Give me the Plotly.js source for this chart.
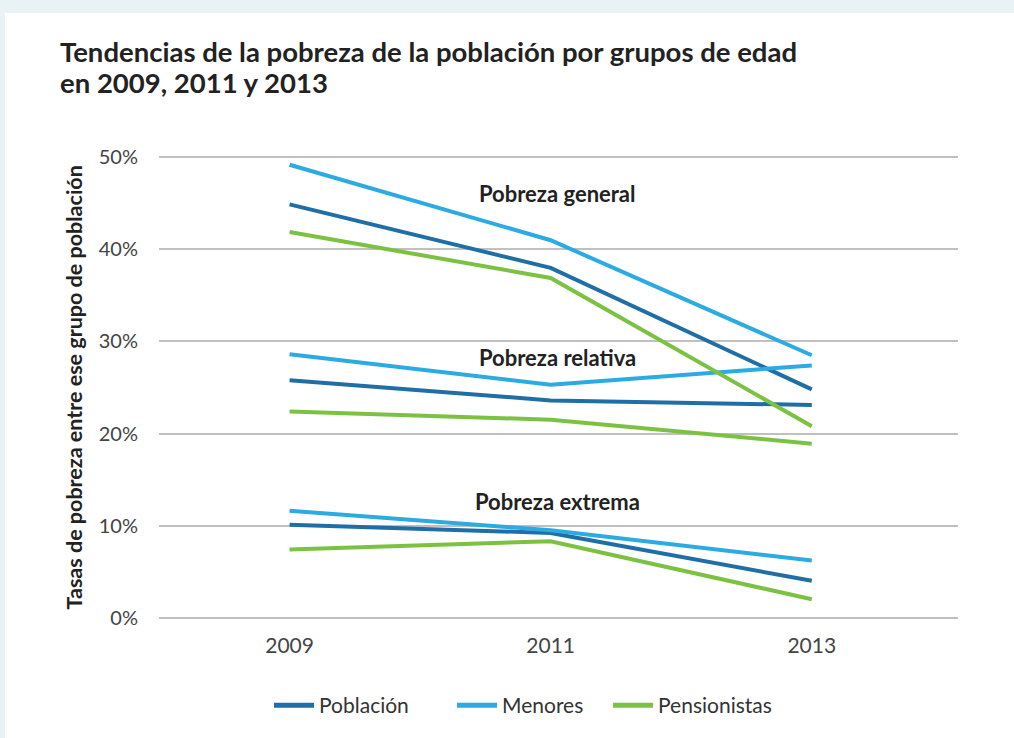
<!DOCTYPE html>
<html>
<head>
<meta charset="utf-8">
<script src="https://cdn.plot.ly/plotly-3.0.1.min.js"></script>
<style>
  html, body { margin: 0; padding: 0; background: #e9f3f5; width: 1014px; height: 738px; overflow: hidden; }
  #chart { position: absolute; left: 5px; top: 13px; width: 1009px; height: 725px; background: #ffffff; }
</style>
</head>
<body>
<div id="chart"></div>
<script>
const years = [2009, 2011, 2013];
const groups = ["Población", "Menores", "Pensionistas"];
// Pobreza general
const generalPoblacion = [44.9, 38.0, 24.8];
const generalMenores = [49.2, 41.0, 28.5];
const generalPensionistas = [41.9, 36.9, 20.8];
// Pobreza relativa
const relativaPoblacion = [25.8, 23.6, 23.1];
const relativaMenores = [28.6, 25.3, 27.4];
const relativaPensionistas = [22.4, 21.5, 18.9];
// Pobreza extrema
const extremaPoblacion = [10.1, 9.2, 4.0];
const extremaMenores = [11.6, 9.5, 6.2];
const extremaPensionistas = [7.4, 8.3, 2.0];

const yTickVals = [0, 10, 20, 30, 40, 50];
const yTickText = ["0%", "10%", "20%", "30%", "40%", "50%"];
const labels = ["Pobreza general", "Pobreza relativa", "Pobreza extrema"];
const labelY = [46.1, 28.3, 12.6];
const titleLines = ["Tendencias de la pobreza de la población por grupos de edad", "en 2009, 2011 y 2013"];
const yTitle = "Tasas de pobreza entre ese grupo de población";

const colors = { "Población": "#1f6ea6", "Menores": "#2babe2", "Pensionistas": "#7cc242" };

const sets = [
  { name: "Población", vals: [generalPoblacion, relativaPoblacion, extremaPoblacion] },
  { name: "Menores", vals: [generalMenores, relativaMenores, extremaMenores] },
  { name: "Pensionistas", vals: [generalPensionistas, relativaPensionistas, extremaPensionistas] }
];
const legendIds = ["legend", "legend2", "legend3"];

const traces = [];
sets.forEach((s, k) => {
  s.vals.forEach((v) => {
    traces.push({
      x: years, y: v, type: "scatter", mode: "lines",
      name: s.name, legendgroup: s.name, showlegend: false,
      line: { color: colors[s.name], width: 4 },
      hoverinfo: "skip"
    });
  });
  // legend entry (no data drawn)
  traces.push({
    x: [null], y: [null], type: "scatter", mode: "lines",
    name: s.name, legendgroup: s.name, showlegend: true, legend: legendIds[k],
    line: { color: colors[s.name], width: 5 }, hoverinfo: "skip"
  });
});

const W = 1009, H = 725;
const legendFont = { family: "Lato", size: 21, color: "#333333" };
function mkLegend(xp) {
  return {
    orientation: "h", x: xp, xanchor: "left", y: -0.187, yanchor: "middle",
    font: legendFont, itemwidth: 40, bgcolor: "rgba(0,0,0,0)", borderwidth: 0
  };
}
const layout = {
  width: W, height: H,
  paper_bgcolor: "#ffffff", plot_bgcolor: "#ffffff",
  margin: { l: 154, r: 56, t: 143, b: 111 },
  font: { family: "Lato, 'Open Sans', sans-serif", color: "#333333", size: 20 },
  xaxis: {
    range: [2008, 2014.12],
    tickvals: years, ticktext: years.map(String),
    showgrid: false, zeroline: false, showline: false,
    ticks: "", ticklabelstandoff: 12,
    tickfont: { size: 21, color: "#444444" },
    fixedrange: true
  },
  yaxis: {
    range: [-0.15, 50.15],
    tickmode: "array", tickvals: yTickVals, ticktext: yTickText,
    showgrid: true, gridcolor: "#c0c0c0", gridwidth: 2,
    zeroline: false, showline: false,
    ticks: "", ticklabelstandoff: 20,
    tickfont: { size: 20, color: "#444444" },
    fixedrange: true
  },
  showlegend: true,
  legend: mkLegend(0.1377),
  legend2: mkLegend(0.3667),
  legend3: mkLegend(0.562),
  annotations: [
    {
      text: yTitle,
      xref: "paper", yref: "paper",
      x: -0.1076, y: 0.5, xanchor: "center", yanchor: "middle",
      textangle: -90, showarrow: false,
      font: { family: "Lato", size: 21.5, weight: 700, color: "#222222" }
    },
    {
      text: titleLines[0], xref: "paper", yref: "paper",
      x: -0.1264, y: 1.226, xanchor: "left", yanchor: "middle", align: "left",
      showarrow: false,
      font: { family: "Lato", size: 27.5, weight: 700, color: "#222222" }
    },
    {
      text: titleLines[1], xref: "paper", yref: "paper",
      x: -0.1264, y: 1.158, xanchor: "left", yanchor: "middle", align: "left",
      showarrow: false,
      font: { family: "Lato", size: 27.5, weight: 700, color: "#222222" }
    }
  ].concat(labels.map((t, i) => ({
    text: t, xref: "x", yref: "y", x: 2011.05, y: labelY[i],
    xanchor: "center", yanchor: "middle", showarrow: false,
    font: { family: "Lato", size: 22, weight: 700, color: "#222222" }
  })))
};

Plotly.newPlot("chart", traces, layout, { displayModeBar: false, staticPlot: true });
</script>
</body>
</html>
